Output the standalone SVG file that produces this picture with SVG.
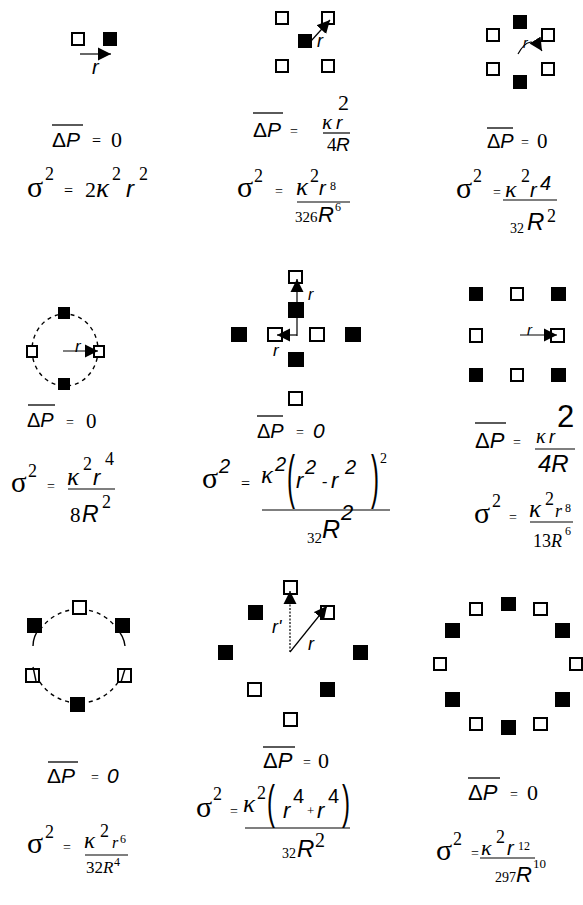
<svg xmlns="http://www.w3.org/2000/svg" width="583" height="905" viewBox="0 0 583 905">
<defs>
<style>
.o{fill:#fff;stroke:#000;stroke-width:2}
.f{fill:#000}
.s{font-family:"Liberation Serif",serif;fill:#000}
.si{font-family:"Liberation Serif",serif;font-style:italic;fill:#000}
.h{font-family:"Liberation Sans",sans-serif;fill:#000}
.hi{font-family:"Liberation Sans",sans-serif;font-style:italic;fill:#000}
.ol{stroke:#000;stroke-width:1.3}
.fr{stroke:#000;stroke-width:1.2}
.ar{stroke:#000;stroke-width:1.2;fill:none;marker-end:url(#ah)}
.dc{stroke:#000;stroke-width:1.4;fill:none;stroke-dasharray:4,4}
.sl{stroke:#000;stroke-width:1.4;fill:none}
</style>
<marker id="ah" viewBox="0 0 10 10" refX="10" refY="5" markerWidth="13" markerHeight="14" markerUnits="userSpaceOnUse" orient="auto"><path d="M0,0 L10,5 L0,10 z" fill="#000"/></marker>
</defs>
<rect width="583" height="905" fill="#fff"/>

<!-- Panel 1 -->
<g id="panel-1">
<g id="p1-nodes"><rect class="o" x="72" y="33" width="12" height="12"/><rect class="f" x="103" y="32" width="14" height="14"/></g>
<g id="p1-connectors"><line class="ar" x1="80" y1="54" x2="111" y2="54"/></g>
<text class="hi" x="92" y="74" font-size="20">r</text>
<line class="ol" x1="52" y1="125" x2="83" y2="125"/>
<text class="h" x="52" y="147" font-size="21">Δ<tspan font-style="italic">P</tspan></text>
<text class="s" x="92" y="146" font-size="16">=</text>
<text class="s" x="111" y="147" font-size="22">0</text>
<text class="s" x="27" y="197" font-size="30">σ</text>
<text class="s" x="45" y="180" font-size="18">2</text>
<text class="s" x="64" y="196" font-size="16">=</text>
<text class="s" x="85" y="197" font-size="22">2</text>
<text class="si" x="96" y="197" font-size="27">κ</text>
<text class="s" x="112" y="180" font-size="18">2</text>
<text class="hi" x="126" y="197" font-size="24">r</text>
<text class="s" x="139" y="180" font-size="18">2</text>
</g>

<!-- Panel 2 -->
<g id="panel-2">
<g id="p2-nodes">
<rect class="o" x="276" y="12" width="12" height="12"/><rect class="o" x="322" y="12" width="12" height="12"/>
<rect class="f" x="298" y="34" width="14" height="14"/>
<rect class="o" x="276" y="60" width="12" height="12"/><rect class="o" x="322" y="60" width="12" height="12"/>
</g>
<g id="p2-connectors"><line class="ar" x1="311" y1="41" x2="330" y2="20"/></g>
<text class="hi" x="317" y="47" font-size="18">r</text>
<line class="ol" x1="253" y1="113" x2="283" y2="113"/>
<text class="h" x="253" y="137" font-size="21">Δ<tspan font-style="italic">P</tspan></text>
<text class="s" x="290" y="136" font-size="14">=</text>
<text class="si" x="322" y="129" font-size="21">κ</text>
<text class="hi" x="336" y="129" font-size="19">r</text>
<text class="s" x="338" y="110" font-size="22">2</text>
<line class="fr" x1="323" y1="133" x2="350" y2="133"/>
<text class="s" x="327" y="151" font-size="19">4</text>
<text class="hi" x="336" y="151" font-size="19">R</text>
<text class="s" x="237" y="197" font-size="30">σ</text>
<text class="s" x="254" y="182" font-size="18">2</text>
<text class="s" x="275" y="196" font-size="14">=</text>
<text class="si" x="296" y="195" font-size="25">κ</text>
<text class="s" x="310" y="182" font-size="18">2</text>
<text class="hi" x="319" y="195" font-size="20">r</text>
<text class="s" x="330" y="190" font-size="12">8</text>
<line class="fr" x1="297" y1="202" x2="350" y2="202"/>
<text class="s" x="295" y="222" font-size="15">326</text>
<text class="hi" x="318" y="222" font-size="22">R</text>
<text class="s" x="335" y="211" font-size="12">6</text>
</g>

<!-- Panel 3 -->
<g id="panel-3">
<g id="p3-nodes">
<rect class="f" x="513" y="15" width="14" height="14"/>
<rect class="o" x="487" y="29" width="12" height="12"/><rect class="o" x="542" y="29" width="12" height="12"/>
<rect class="o" x="487" y="63" width="12" height="12"/><rect class="o" x="542" y="63" width="12" height="12"/>
<rect class="f" x="513" y="75" width="14" height="14"/>
</g>
<g id="p3-connectors"><path class="ar" d="M518,54 Q530,32 542,51"/></g>
<text class="hi" x="523" y="48" font-size="14">r</text>
<line class="ol" x1="487" y1="128" x2="513" y2="128"/>
<text class="h" x="487" y="148" font-size="20">Δ<tspan font-style="italic">P</tspan></text>
<text class="s" x="521" y="147" font-size="14">=</text>
<text class="s" x="537" y="148" font-size="21">0</text>
<text class="s" x="456" y="198" font-size="30">σ</text>
<text class="s" x="473" y="182" font-size="18">2</text>
<text class="s" x="493" y="197" font-size="14">=</text>
<text class="si" x="505" y="197" font-size="24">κ</text>
<text class="s" x="521" y="182" font-size="18">2</text>
<text class="hi" x="530" y="197" font-size="20">r</text>
<text class="hi" x="540" y="190" font-size="20">4</text>
<line class="fr" x1="503" y1="200" x2="557" y2="200"/>
<text class="s" x="510" y="233" font-size="14">32</text>
<text class="hi" x="527" y="230" font-size="24">R</text>
<text class="s" x="547" y="222" font-size="18">2</text>
</g>

<!-- Panel 4 -->
<g id="panel-4">
<ellipse class="dc" cx="65" cy="350" rx="33" ry="36"/>
<g id="p4-nodes">
<rect class="f" x="58" y="307" width="12" height="12"/><rect class="f" x="58" y="378" width="12" height="12"/>
<rect class="o" x="27" y="346" width="10" height="11"/><rect class="o" x="94" y="346" width="10" height="11"/>
</g>
<g id="p4-connectors"><line class="ar" x1="63" y1="351" x2="98" y2="351" stroke="#666"/></g>
<text class="hi" x="75" y="352" font-size="17">r</text>
<line class="ol" x1="28" y1="405" x2="55" y2="405"/>
<text class="h" x="27" y="427" font-size="20">Δ<tspan font-style="italic">P</tspan></text>
<text class="s" x="66" y="427" font-size="14">=</text>
<text class="s" x="86" y="428" font-size="21">0</text>
<text class="s" x="11" y="492" font-size="29">σ</text>
<text class="s" x="28" y="477" font-size="18">2</text>
<text class="s" x="47" y="491" font-size="14">=</text>
<text class="si" x="67" y="485" font-size="25">κ</text>
<text class="s" x="83" y="470" font-size="18">2</text>
<text class="hi" x="93" y="485" font-size="22">r</text>
<text class="s" x="105" y="465" font-size="18">4</text>
<line class="fr" x1="68" y1="489" x2="115" y2="489"/>
<text class="s" x="70" y="522" font-size="21">8</text>
<text class="hi" x="82" y="522" font-size="23">R</text>
<text class="s" x="102" y="508" font-size="18">2</text>
</g>

<!-- Panel 5 -->
<g id="panel-5">
<g id="p5-nodes">
<rect class="o" x="289" y="271" width="13" height="12"/>
<rect class="f" x="288" y="302" width="16" height="16"/>
<rect class="f" x="231" y="327" width="16" height="15"/>
<rect class="o" x="268" y="328" width="14" height="13"/>
<rect class="o" x="310" y="328" width="14" height="13"/>
<rect class="f" x="345" y="327" width="16" height="15"/>
<rect class="f" x="288" y="352" width="16" height="15"/>
<rect class="o" x="289" y="392" width="13" height="13"/>
</g>
<g id="p5-connectors">
<line class="ar" x1="297" y1="336" x2="297" y2="279"/>
<line class="ar" x1="297" y1="335" x2="277" y2="335"/>
</g>
<text class="hi" x="308" y="300" font-size="16">r</text>
<text class="hi" x="273" y="356" font-size="17">r</text>
<line class="ol" x1="257" y1="416" x2="283" y2="416"/>
<text class="h" x="257" y="438" font-size="20">Δ<tspan font-style="italic">P</tspan></text>
<text class="s" x="296" y="437" font-size="14">=</text>
<text class="hi" x="313" y="438" font-size="21">0</text>
<text class="s" x="202" y="488" font-size="30">σ</text>
<text class="hi" x="219" y="473" font-size="20">2</text>
<text class="s" x="241" y="489" font-size="16">=</text>
<text class="si" x="261" y="483" font-size="25">κ</text>
<text class="hi" x="275" y="471" font-size="20">2</text>
<text class="h" transform="translate(287,497) scale(1,2.5)" font-size="24">(</text>
<text class="hi" x="296" y="488" font-size="22">r</text>
<text class="hi" x="305" y="474" font-size="20">2</text>
<text class="s" x="322" y="487" font-size="16">-</text>
<text class="hi" x="331" y="488" font-size="22">r</text>
<text class="hi" x="345" y="474" font-size="20">2</text>
<text class="h" transform="translate(371,497) scale(1,2.5)" font-size="24">)</text>
<text class="s" x="380" y="463" font-size="14">2</text>
<line class="fr" x1="262" y1="510" x2="390" y2="510"/>
<text class="s" x="307" y="543" font-size="15">32</text>
<text class="hi" x="322" y="538" font-size="25">R</text>
<text class="hi" x="341" y="520" font-size="22">2</text>
</g>

<!-- Panel 6 -->
<g id="panel-6">
<g id="p6-nodes">
<rect class="f" x="469" y="287" width="14" height="14"/><rect class="o" x="511" y="288" width="12" height="12"/><rect class="f" x="551" y="287" width="15" height="14"/>
<rect class="o" x="470" y="329" width="12" height="13"/><rect class="o" x="551" y="329" width="13" height="13"/>
<rect class="f" x="469" y="368" width="14" height="14"/><rect class="o" x="511" y="369" width="12" height="12"/><rect class="f" x="551" y="368" width="15" height="14"/>
</g>
<g id="p6-connectors"><line class="ar" x1="520" y1="335" x2="557" y2="335"/></g>
<text class="hi" x="527" y="335" font-size="15">r</text>
<line class="ol" x1="475" y1="423" x2="506" y2="423"/>
<text class="h" x="475" y="448" font-size="22">Δ<tspan font-style="italic">P</tspan></text>
<text class="s" x="513" y="447" font-size="14">=</text>
<text class="si" x="536" y="443" font-size="20">κ</text>
<text class="hi" x="549" y="443" font-size="18">r</text>
<text class="h" x="557" y="427" font-size="31">2</text>
<line class="fr" x1="535" y1="449" x2="575" y2="449"/>
<text class="hi" x="538" y="472" font-size="24">4R</text>
<text class="s" x="474" y="523" font-size="30">σ</text>
<text class="s" x="492" y="507" font-size="18">2</text>
<text class="s" x="509" y="522" font-size="14">=</text>
<text class="si" x="529" y="517" font-size="25">κ</text>
<text class="s" x="545" y="505" font-size="18">2</text>
<text class="si" x="555" y="517" font-size="18">r</text>
<text class="s" x="565" y="512" font-size="12">8</text>
<line class="fr" x1="530" y1="522" x2="573" y2="522"/>
<text class="s" x="533" y="547" font-size="18">13<tspan font-style="italic">R</tspan></text>
<text class="s" x="565" y="535" font-size="12">6</text>
</g>

<!-- Panel 7 -->
<g id="panel-7">
<path class="dc" d="M40,630 A47,47 0 0 1 118,630"/>
<path class="dc" d="M36,675 A47,47 0 0 0 122,675"/>
<g id="p7-nodes">
<rect class="o" x="73" y="601" width="13" height="13"/>
<rect class="f" x="27" y="618" width="15" height="15"/><rect class="f" x="115" y="618" width="15" height="15"/>
<rect class="o" x="26" y="669" width="13" height="13"/><rect class="o" x="118" y="669" width="13" height="13"/>
<rect class="f" x="70" y="697" width="15" height="15"/>
</g>
<g id="p7-connectors">
<path class="sl" d="M40,628 Q33,636 33,646"/>
<path class="sl" d="M116,628 Q124,636 125,646"/>
<line class="sl" x1="33" y1="667" x2="36" y2="681"/>
<line class="sl" x1="125" y1="669" x2="121" y2="682"/>
</g>
<line class="ol" x1="48" y1="762" x2="78" y2="762"/>
<text class="h" x="47" y="783" font-size="21">Δ<tspan font-style="italic">P</tspan></text>
<text class="s" x="91" y="782" font-size="14">=</text>
<text class="hi" x="107" y="783" font-size="21">0</text>
<text class="s" x="27" y="853" font-size="30">σ</text>
<text class="s" x="45" y="838" font-size="18">2</text>
<text class="s" x="63" y="852" font-size="14">=</text>
<text class="si" x="84" y="848" font-size="23">κ</text>
<text class="s" x="100" y="837" font-size="18">2</text>
<text class="si" x="112" y="848" font-size="16">r</text>
<text class="s" x="120" y="843" font-size="12">6</text>
<line class="fr" x1="85" y1="855" x2="128" y2="855"/>
<text class="s" x="86" y="873" font-size="17">32<tspan font-style="italic">R</tspan></text>
<text class="s" x="114" y="866" font-size="12">4</text>
</g>

<!-- Panel 8 -->
<g id="panel-8">
<g id="p8-nodes">
<rect class="o" x="284" y="581" width="13" height="13"/>
<rect class="f" x="248" y="605" width="15" height="15"/><rect class="o" x="321" y="606" width="13" height="13"/>
<rect class="f" x="218" y="645" width="15" height="15"/><rect class="f" x="353" y="645" width="15" height="15"/>
<rect class="o" x="248" y="683" width="13" height="13"/><rect class="f" x="320" y="682" width="15" height="15"/>
<rect class="o" x="284" y="713" width="13" height="13"/>
</g>
<g id="p8-connectors">
<line class="ar" x1="290" y1="652" x2="290" y2="591" stroke-dasharray="2,1.5"/>
<line class="ar" x1="290" y1="652" x2="327" y2="606"/>
</g>
<text class="hi" x="272" y="633" font-size="18">r'</text>
<text class="hi" x="308" y="650" font-size="18">r</text>
<line class="ol" x1="263" y1="747" x2="295" y2="747"/>
<text class="h" x="263" y="768" font-size="22">Δ<tspan font-style="italic">P</tspan></text>
<text class="s" x="303" y="767" font-size="14">=</text>
<text class="s" x="318" y="768" font-size="22">0</text>
<text class="s" x="196" y="817" font-size="30">σ</text>
<text class="s" x="213" y="800" font-size="18">2</text>
<text class="s" x="230" y="816" font-size="14">=</text>
<text class="si" x="243" y="812" font-size="25">κ</text>
<text class="s" x="257" y="799" font-size="18">2</text>
<text class="h" transform="translate(267,818) scale(1,1.9)" font-size="24">(</text>
<text class="hi" x="283" y="818" font-size="22">r</text>
<text class="h" x="293" y="803" font-size="20">4</text>
<text class="s" x="307" y="815" font-size="13">+</text>
<text class="hi" x="317" y="818" font-size="22">r</text>
<text class="h" x="328" y="803" font-size="20">4</text>
<text class="h" transform="translate(342,818) scale(1,1.9)" font-size="24">)</text>
<line class="fr" x1="245" y1="828" x2="350" y2="828"/>
<text class="s" x="282" y="858" font-size="14">32</text>
<text class="hi" x="297" y="857" font-size="24">R</text>
<text class="s" x="315" y="847" font-size="20">2</text>
</g>

<!-- Panel 9 -->
<g id="panel-9">
<g id="p9-nodes">
<rect class="o" x="470" y="603" width="12" height="12"/><rect class="f" x="501" y="597" width="15" height="14"/><rect class="o" x="534" y="603" width="13" height="12"/>
<rect class="f" x="445" y="623" width="15" height="15"/><rect class="f" x="555" y="623" width="15" height="15"/>
<rect class="o" x="434" y="658" width="12" height="12"/><rect class="o" x="570" y="658" width="12" height="12"/>
<rect class="f" x="445" y="692" width="15" height="15"/><rect class="f" x="555" y="692" width="15" height="15"/>
<rect class="o" x="470" y="718" width="12" height="12"/><rect class="f" x="501" y="720" width="15" height="15"/><rect class="o" x="534" y="718" width="13" height="12"/>
</g>
<line class="ol" x1="468" y1="778" x2="500" y2="778"/>
<text class="h" x="468" y="800" font-size="22">Δ<tspan font-style="italic">P</tspan></text>
<text class="s" x="510" y="799" font-size="14">=</text>
<text class="s" x="527" y="800" font-size="22">0</text>
<text class="s" x="436" y="860" font-size="30">σ</text>
<text class="s" x="453" y="845" font-size="18">2</text>
<text class="s" x="471" y="858" font-size="14">=</text>
<text class="si" x="481" y="855" font-size="22">κ</text>
<text class="s" x="496" y="843" font-size="18">2</text>
<text class="hi" x="507" y="855" font-size="20">r</text>
<text class="s" x="518" y="850" font-size="12">12</text>
<line class="fr" x1="480" y1="858" x2="535" y2="858"/>
<text class="s" x="495" y="882" font-size="14">297</text>
<text class="hi" x="516" y="882" font-size="22">R</text>
<text class="s" x="533" y="868" font-size="13">10</text>
</g>
</svg>
